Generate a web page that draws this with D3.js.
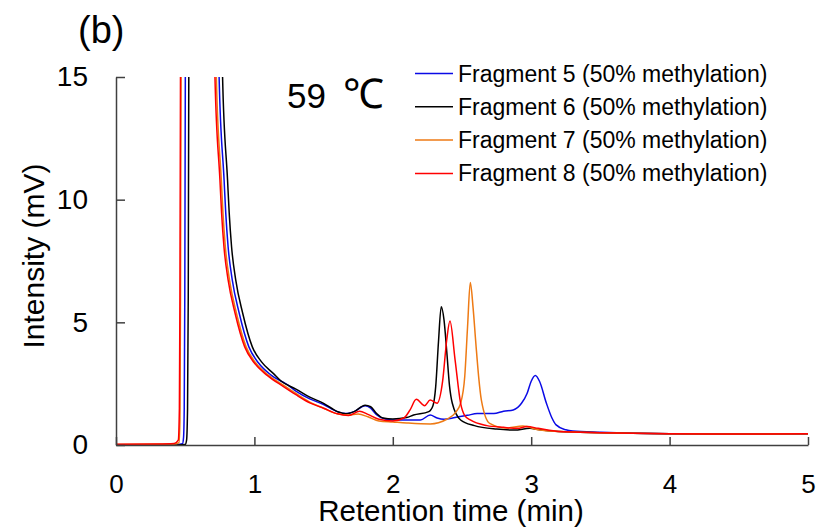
<!DOCTYPE html>
<html>
<head>
<meta charset="utf-8">
<script src="https://cdn.jsdelivr.net/npm/d3@7"></script>
<style>
  body { margin: 0; background: #fff; }
  text { font-family: "Liberation Sans", Arial, sans-serif; }
</style>
</head>
<body>
<div id="chart"></div>
<script>
// chromatogram traces, [time (min), intensity (mV)]
const frag5 = [[0,0.0],[0.44,0.02],[0.48,0.05],[0.488,0.3],[0.493,1.5],[0.497,6],[0.503,20],[0.515,60],[0.62,80],[0.72,40],[0.745,15],[0.781,10.8],[0.793,9.45],[0.81,8.08],[0.84,6.73],[0.89,5.38],[0.96,4.0],[1.03,3.34],[1.12,2.85],[1.24,2.45],[1.3,2.2],[1.4,1.88],[1.5,1.65],[1.6,1.36],[1.66,1.28],[1.72,1.36],[1.8,1.6],[1.84,1.5],[1.88,1.25],[1.95,1.05],[2.0,1.02],[2.2,1.02],[2.27,1.22],[2.32,1.1],[2.37,1.05],[2.45,1.12],[2.54,1.21],[2.61,1.28],[2.73,1.28],[2.8,1.38],[2.87,1.43],[2.93,1.7],[2.97,2.1],[3.0,2.6],[3.03,2.83],[3.06,2.6],[3.11,1.7],[3.15,1.1],[3.18,0.82],[3.25,0.62],[3.3,0.57],[3.5,0.52],[4.0,0.46],[4.5,0.45],[5.0,0.46]]
const frag6 = [[0,0.0],[0.45,0.0],[0.5,0.02],[0.51,0.2],[0.517,1.5],[0.522,6],[0.528,20],[0.54,60],[0.65,80],[0.74,40],[0.77,15],[0.806,10.8],[0.818,9.45],[0.835,8.08],[0.865,6.73],[0.915,5.38],[0.985,4.0],[1.05,3.4],[1.14,2.9],[1.19,2.62],[1.3,2.28],[1.4,1.95],[1.5,1.7],[1.6,1.36],[1.66,1.27],[1.72,1.36],[1.8,1.62],[1.84,1.56],[1.88,1.3],[1.93,1.1],[2.0,1.06],[2.1,1.12],[2.15,1.22],[2.26,1.36],[2.29,1.6],[2.31,2.38],[2.33,4.2],[2.35,5.64],[2.37,5.1],[2.39,3.8],[2.41,2.4],[2.43,1.7],[2.49,1.02],[2.59,0.79],[2.75,0.65],[2.88,0.61],[2.99,0.68],[3.05,0.63],[3.2,0.55],[3.5,0.5],[4.0,0.46],[4.5,0.45],[5.0,0.46]]
const frag7 = [[0,0.02],[0.42,0.04],[0.455,0.1],[0.462,1.0],[0.466,6],[0.472,20],[0.485,60],[0.6,80],[0.7,40],[0.725,15],[0.761,10.8],[0.773,9.45],[0.79,8.08],[0.82,6.73],[0.87,5.38],[0.94,4.0],[1.01,3.34],[1.10,2.85],[1.22,2.4],[1.3,2.1],[1.4,1.75],[1.5,1.5],[1.6,1.27],[1.68,1.22],[1.75,1.26],[1.82,1.15],[1.9,0.98],[2.0,0.94],[2.1,0.9],[2.27,0.86],[2.39,1.05],[2.45,1.3],[2.49,1.7],[2.52,2.8],[2.54,4.8],[2.56,6.62],[2.58,5.6],[2.6,4.15],[2.62,2.8],[2.64,1.83],[2.7,0.88],[2.82,0.69],[2.94,0.77],[3.06,0.61],[3.2,0.55],[3.5,0.5],[4.0,0.46],[4.5,0.45],[5.0,0.46]]
const frag8 = [[0,0.03],[0.3,0.04],[0.42,0.06],[0.45,0.2],[0.458,1.5],[0.462,6],[0.468,20],[0.48,60],[0.6,80],[0.69,40],[0.715,15],[0.751,10.8],[0.763,9.45],[0.78,8.08],[0.81,6.73],[0.86,5.38],[0.93,4.0],[1.0,3.34],[1.09,2.85],[1.21,2.38],[1.3,2.05],[1.4,1.72],[1.5,1.5],[1.6,1.27],[1.68,1.2],[1.76,1.38],[1.82,1.25],[1.9,1.05],[2.0,0.98],[2.08,1.1],[2.125,1.43],[2.17,1.86],[2.23,1.6],[2.27,1.83],[2.32,1.7],[2.36,2.6],[2.39,4.3],[2.413,5.05],[2.45,3.47],[2.49,1.7],[2.52,1.2],[2.56,1.02],[2.68,0.79],[2.8,0.72],[2.9,0.68],[2.97,0.75],[3.05,0.68],[3.2,0.55],[3.5,0.5],[4.0,0.46],[4.5,0.45],[5.0,0.46]]

const seriesNames = ["Fragment 5 (50% methylation)", "Fragment 6 (50% methylation)", "Fragment 7 (50% methylation)", "Fragment 8 (50% methylation)"]
const seriesColors = ["#0a0ae6", "#000000", "#ee7a14", "#ff0000"]
const xTicks = [0, 1, 2, 3, 4, 5]
const yTicks = [0, 5, 10, 15]

const drawChart = () => {
  const width = 817
  const height = 531
  const margin = { top: 77, right: 9, bottom: 86, left: 116 }
  const innerWidth = width - margin.left - margin.right
  const innerHeight = height - margin.top - margin.bottom

  const svg = d3.select("#chart")
    .append("svg")
      .attr("width", width)
      .attr("height", height)

  const chart = svg.append("g")
    .attr("transform", `translate(${margin.left}, ${margin.top})`)

  const xScale = d3.scaleLinear().domain([0, 5]).range([0, innerWidth])
  const yScale = d3.scaleLinear().domain([0, 15]).range([innerHeight, 0])

  chart.append("clipPath")
      .attr("id", "plot-clip")
    .append("rect")
      .attr("x", 0)
      .attr("y", 0)
      .attr("width", innerWidth + 2)
      .attr("height", innerHeight + 2)

  const line = d3.line()
    .x(d => xScale(d[0]))
    .y(d => yScale(d[1]))
    .curve(d3.curveMonotoneX)

  const allSeries = [frag5, frag6, frag7, frag8]
  chart.append("g")
      .attr("clip-path", "url(#plot-clip)")
    .selectAll("path")
    .data(allSeries)
    .join("path")
      .attr("d", d => line(d))
      .attr("fill", "none")
      .attr("stroke", (d, i) => seriesColors[i])
      .attr("stroke-width", 1.5)

  // axes, ticks pointing inward
  const xAxis = d3.axisBottom(xScale)
    .tickValues(xTicks)
    .tickFormat(d3.format("d"))
    .tickSizeInner(-8)
    .tickSizeOuter(0)
    .tickPadding(30)
  const gx = chart.append("g")
    .attr("transform", `translate(0, ${innerHeight})`)
    .call(xAxis)

  const yAxis = d3.axisLeft(yScale)
    .tickValues(yTicks)
    .tickFormat(d3.format("d"))
    .tickSizeInner(-9)
    .tickSizeOuter(0)
    .tickPadding(28)
  const gy = chart.append("g").call(yAxis)

  ;[gx, gy].forEach(g => {
    g.selectAll("path, line").attr("stroke", "#404040").attr("stroke-width", 1.5)
    g.selectAll("text")
      .attr("fill", "#000")
      .style("font-family", '"Liberation Sans", Arial, sans-serif')
      .style("font-size", "26px")
  })
  gy.selectAll("text").style("font-size", "28px")

  svg.append("text")
    .text("Retention time (min)")
    .attr("x", 451)
    .attr("y", 521)
    .attr("text-anchor", "middle")
    .style("font-size", "29.5px")

  svg.append("text")
    .text("Intensity (mV)")
    .attr("transform", "translate(44, 256) rotate(-90)")
    .attr("text-anchor", "middle")
    .style("font-size", "30px")

  svg.append("text")
    .text("(b)")
    .attr("x", 78)
    .attr("y", 43)
    .style("font-size", "38px")

  const temp = svg.append("text")
    .attr("x", 287)
    .attr("y", 108)
    .style("font-size", "35px")
  temp.append("tspan").text("59 ")
  temp.append("tspan")
    .text("℃")
    .attr("dx", 7)
    .style("font-size", "41px")

  // legend
  const legend = svg.append("g")
  const rows = legend.selectAll("g")
    .data(seriesNames)
    .join("g")
      .attr("transform", (d, i) => `translate(415, ${73.5 + i * 33.3})`)
  rows.append("line")
    .attr("x1", 0)
    .attr("x2", 38)
    .attr("stroke", (d, i) => seriesColors[i])
    .attr("stroke-width", 1.5)
  rows.append("text")
    .text(d => d)
    .attr("x", 43)
    .attr("y", 8)
    .style("font-size", "23px")
}

drawChart()
</script>
</body>
</html>
